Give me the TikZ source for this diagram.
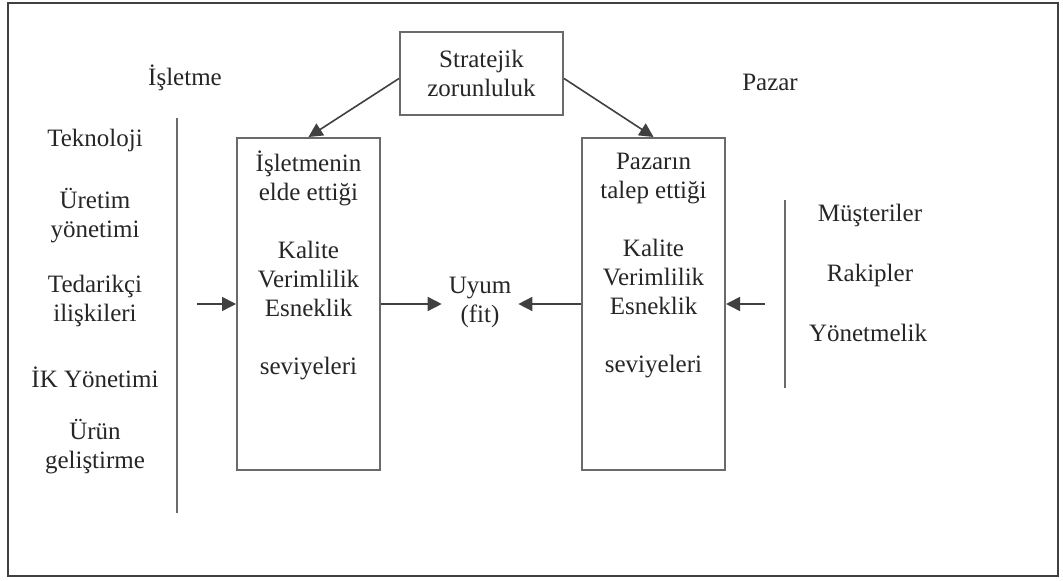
\documentclass[tikz,border=0pt]{standalone}
\usepackage{fontspec}
\setmainfont{Liberation Serif}
\usetikzlibrary{arrows.meta}
\definecolor{linegray}{HTML}{6A6A6A}
\definecolor{txtgray}{HTML}{262626}

\begin{document}
\begin{tikzpicture}[x=0.5pt,y=-0.5pt,
    lbl/.style={text=txtgray,font=\fontsize{12.5}{14.5}\selectfont,align=center},
    box/.style={draw=linegray,line width=1pt,minimum width=71.5pt,minimum height=166pt},
    arr/.style={draw=black!75,line width=0.8pt,-{Triangle[length=7pt,width=7pt]}}]
    \useasboundingbox (0,0) rectangle (1063,581);
    \draw[draw=black!75,line width=1.3pt] (8,3) rectangle (1058,576);

    % top box and the two sides
    \node[lbl,draw=linegray,line width=1pt,minimum width=81.5pt,minimum height=41.5pt]
        (strat) at (481.5,73.5) {Stratejik\\zorunluluk};
    \node[lbl] (isl) at (185,78) {İşletme};
    \node[lbl] (paz) at (770,82) {Pazar};

    \node[box] (lbox) at (308.5,304) {};
    \node[box] (rbox) at (653.5,304) {};
    \node[lbl] (ltext) at (308.5,265.5) {İşletmenin\\elde ettiği\\[14.5pt]Kalite\\Verimlilik\\Esneklik\\[14.5pt]seviyeleri};
    \node[lbl] (rtext) at (653.5,265.5) {Pazarın\\talep ettiği\\[14.5pt]Kalite\\Verimlilik\\Esneklik\\[14.5pt]seviyeleri};
    \node[lbl] (uyum) at (480,302.5) {Uyum\\(fit)};

    % left list
    \node[lbl] (tek) at (95,140) {Teknoloji};
    \node[lbl] (uret) at (95,216) {Üretim\\yönetimi};
    \node[lbl] (ted) at (95,301) {Tedarikçi\\ilişkileri};
    \node[lbl] (ik) at (95,377) {İK Yönetimi};
    \node[lbl] (urun) at (95,447) {Ürün\\geliştirme};
    \draw[draw=linegray,line width=1pt] (177,118) -- (177,513);

    % right list
    \node[lbl] (must) at (870,215) {Müşteriler};
    \node[lbl] (rak) at (870,275) {Rakipler};
    \node[lbl] (yon) at (868,333) {Yönetmelik};
    \draw[draw=linegray,line width=1pt] (785,200) -- (785,388);

    \coordinate (lin) at (197,304);
    \coordinate (rin) at (765,304);

    \draw[arr] ([yshift=-2.5pt]strat.west) -- (lbox.north);
    \draw[arr] ([yshift=-2.5pt]strat.east) -- (rbox.north);
    \draw[arr] (lin) -- (lbox.west);
    \draw[arr] (rin) -- (rbox.east);
    \draw[arr] (lbox.east) -- (lbox.east -| uyum.west);
    \draw[arr] (rbox.west) -- (rbox.west -| uyum.east);
\end{tikzpicture}
\end{document}
